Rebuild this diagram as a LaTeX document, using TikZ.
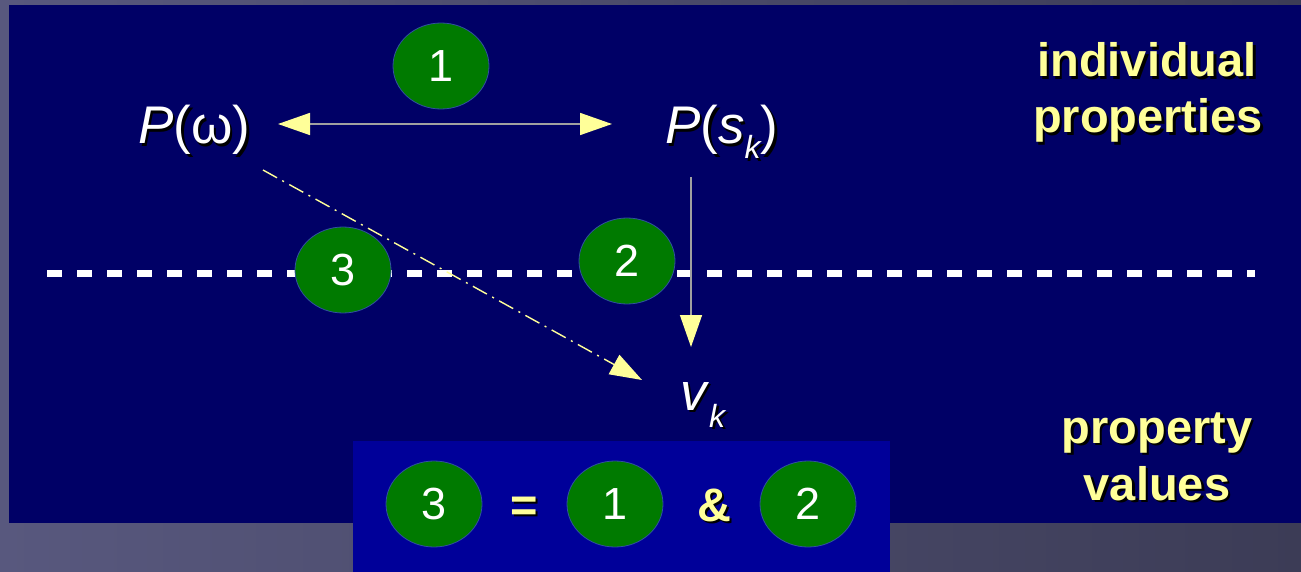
\documentclass[tikz,border=0pt]{standalone}
\usepackage{fontspec}
\setmainfont{Liberation Sans}
\usetikzlibrary{arrows.meta,shapes.geometric}
\definecolor{navy}{RGB}{0,0,102}
\definecolor{boxblue}{RGB}{0,0,153}
\definecolor{bgA}{RGB}{88,88,126}
\definecolor{bgB}{RGB}{60,60,86}
\definecolor{pale}{RGB}{255,255,153}
\definecolor{okgreen}{RGB}{0,122,0}
\definecolor{rimblue}{RGB}{48,80,160}
\definecolor{linegray}{RGB}{160,160,160}
\newcommand\shad[1]{\leavevmode\rlap{\kern2.5pt\raisebox{-2.5pt}{\color{black}#1}}#1}
\newcommand\subk[1]{\raisebox{#1}{\fontsize{32}{32}\selectfont\itshape k}}
\tikzset{ytip/.tip={Triangle[length=32pt,width=22pt,color=pale,fill=pale]}}
\begin{document}
\begin{tikzpicture}[x=1pt,y=-1pt,
  num/.style={ellipse, fill=okgreen, draw=rimblue, line width=0.8pt,
    minimum width=96pt, minimum height=86pt, inner sep=0pt, text=white,
    font=\fontsize{45}{45}\selectfont},
  lbl/.style={text=pale, font=\bfseries\fontsize{47}{54}\selectfont,
    inner sep=0pt, anchor=base},
  sym/.style={inner sep=0pt, text=white, font=\fontsize{53}{53}\selectfont,
    anchor=base west},
  grayconn/.style={draw=linegray, line width=1.6pt},
  dashconn/.style={draw=pale, line width=1.4pt,
    dash pattern=on 16pt off 6pt on 2pt off 6pt},
  divider/.style={draw=white, line width=7pt, dash pattern=on 15pt off 15pt}
]
\useasboundingbox (0,0) rectangle (1301,572);
\shade[left color=bgA, right color=bgB] (0,0) rectangle (1301,572);
\fill[navy] (9,5) rectangle (1301,523);
\fill[boxblue] (353,441) rectangle (890,572);

% divider
\coordinate (dl) at (47,273.5);
\coordinate (dr) at (1255,273.5);
\draw[divider] (dl) -- (dr);

% numbered ellipses
\node[num] (n1) at (441,66) {1};
\node[num] (n3) at (343,270) {3};
\node[num] (n2) at (627,261) {2};

% symbols
\node[sym] (pw) at (138,144) {\shad{\textit{P}(ω)}};
\node[sym] (ps) at (665,144) {\shad{\textit{P}(\textit{s}\subk{-15pt})}};
\node[sym] (vk) at (680,410) {\shad{\textit{v}\subk{-17pt}}};

% connectors
\coordinate (a1) at (278,124);
\coordinate (a2) at (612,124);
\coordinate (b1) at (691,177);
\coordinate (b2) at (691,347);
\coordinate (c1) at (263,170);
\coordinate (c2) at (642,380);
\draw[grayconn, ytip-ytip] (a1) -- (a2);
\draw[grayconn, line width=1.4pt, -ytip] (b1) -- (b2);
\draw[dashconn, -ytip] (c1) -- (c2);

% side labels
\node[lbl] (ip1) at (1147,77) {\shad{individual}};
\node[lbl] (ip2) at (1148,133) {\shad{properties}};
\node[lbl] (pv1) at (1157,443) {\shad{property}};
\node[lbl] (pv2) at (1157,500) {\shad{values}};

% equation
\node[num] (e3) at (434,504) {3};
\node[lbl] (eq) at (524,521) {\shad{=}};
\node[num] (e1) at (615,504) {1};
\node[lbl] (amp) at (714,521) {\shad{\&}};
\node[num] (e2) at (808,504) {2};
\end{tikzpicture}
\end{document}
